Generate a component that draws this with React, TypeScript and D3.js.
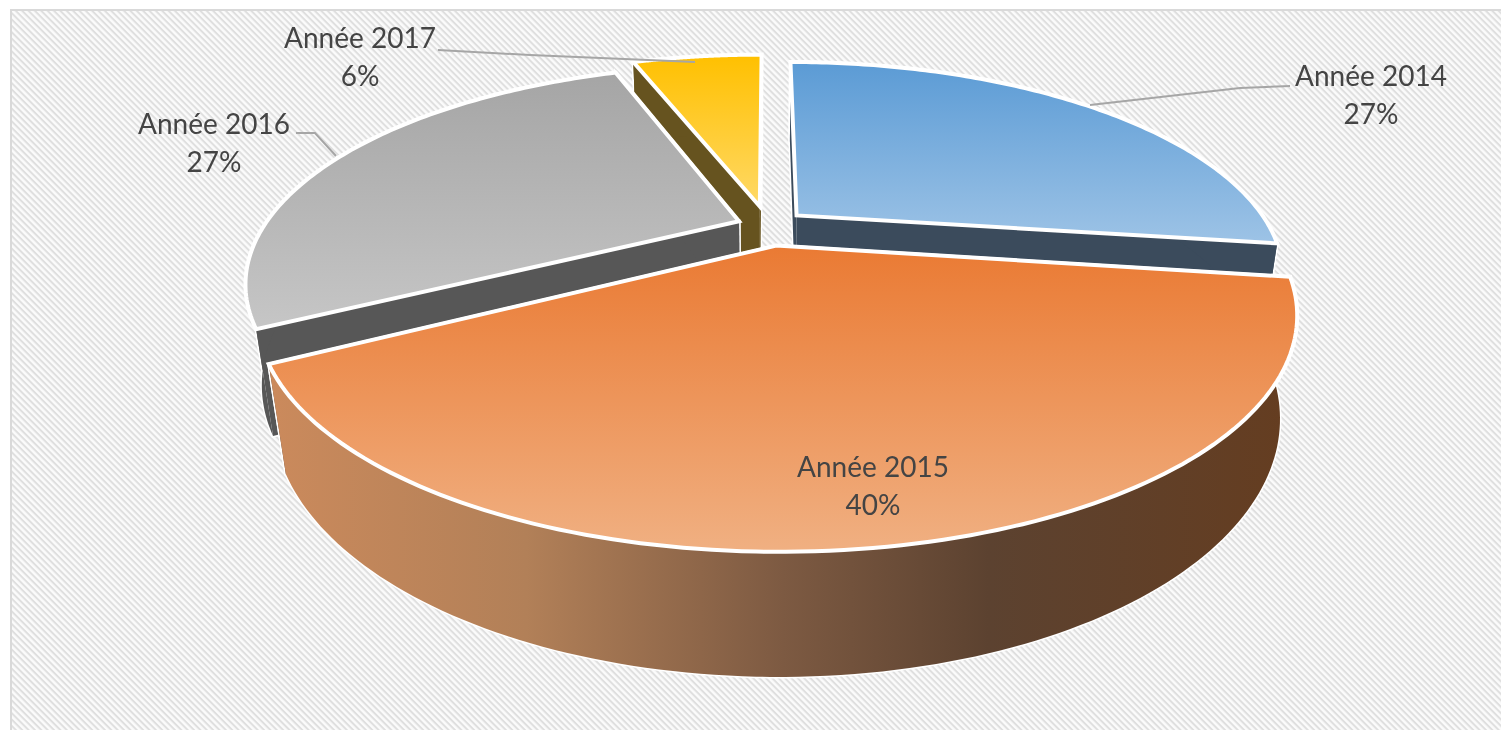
import React from "react";
import * as d3 from "d3";

const years = ["Année 2014", "Année 2015", "Année 2016", "Année 2017"];
const shares = [27.2, 40, 27.2, 5.6];
const explode = [0.08, 0.095, 0.065, 0.1];
const radii = [0.985, 1.01, 0.99, 1];
const topFrom = ["#5b9bd5", "#ea7a33", "#a5a5a5", "#ffc000"];
const topTo = ["#9dc3e6", "#f0b082", "#c6c6c6", "#ffd966"];
const wallFill = ["#3b4b5c", "url(#wallOrange)", "#575757", "#66531f"];
const wallStops = [
  [0, "#cb8a5c"],
  [0.25, "#b28058"],
  [0.5, "#7d5a42"],
  [0.7, "#5c4230"],
  [1, "#653d20"],
] as const;
const labelAnchors = [
  [1371, 76],
  [873, 467],
  [214, 124],
  [360, 38],
];
const leaders: ([number, number][] | null)[] = [
  [[1290, 86], [1240, 88], [1090, 105]],
  null,
  [[296, 133], [315, 133], [336, 156]],
  [[438, 50], [530, 55], [695, 62]],
];

const W = 1501;
const H = 730;
const cx = 768;
const cy = 226;
const A = 480;
const B = 204;
const K = 0.28;
const M = 0.03;
const DEPTH = 100;

const project = (X: number, Y: number, z: number): [number, number] => {
  const d = 1 + K * Y + M * z;
  return [cx + (A * X) / d, cy - (B * Y - DEPTH * z) / d];
};

const line = d3.line();
const pie = d3.pie<number>().sort(null).startAngle(0).endAngle(2 * Math.PI);
const arcs = pie(shares);

const rim = (a0: number, a1: number, ox: number, oy: number, r: number, z: number) =>
  d3.range(0, 121).map((i) => {
    const t = a0 + ((a1 - a0) * i) / 120;
    return project(ox + r * Math.sin(t), oy + r * Math.cos(t), z);
  });

const slices = arcs.map((a, i) => {
  const mid = (a.startAngle + a.endAngle) / 2;
  const ox = Math.sin(mid) * explode[i];
  const oy = Math.cos(mid) * explode[i];
  const top = rim(a.startAngle, a.endAngle, ox, oy, radii[i], 0);
  const bottom = rim(a.startAngle, a.endAngle, ox, oy, radii[i], 1);
  const c0 = project(ox, oy, 0);
  const c1 = project(ox, oy, 1);
  return {
    i,
    top: line([c0, ...top])! + "Z",
    outer: line([...top, ...[...bottom].reverse()])! + "Z",
    sideA: line([c0, top[0], bottom[0], c1])! + "Z",
    sideB: line([c0, top[120], bottom[120], c1])! + "Z",
  };
});

const drawOrder = [3, 2, 0, 1];

export default function App() {
  return (
    <svg
      width={W}
      height={H}
      style={{ position: "absolute", left: 0, top: 0, display: "block" }}
      fontFamily="Lato, 'Open Sans', sans-serif"
    >
      <defs>
        <pattern id="stripes" width={4.5} height={4.5} patternUnits="userSpaceOnUse" patternTransform="rotate(45)">
          <rect width={4.5} height={4.5} fill="#fbfbfb" />
          <rect width={4.5} height={2} y={0} fill="#dfdfdf" />
        </pattern>
        {slices.map((s) => (
          <linearGradient key={s.i} id={`top${s.i}`} x1="0" y1="0" x2="0" y2="1">
            <stop offset="0" stopColor={topFrom[s.i]} />
            <stop offset="1" stopColor={topTo[s.i]} />
          </linearGradient>
        ))}
        <linearGradient id="wallOrange" x1="0" y1="0" x2="1" y2="0">
          {wallStops.map(([o, c]) => (
            <stop key={o} offset={o} stopColor={c} />
          ))}
        </linearGradient>
      </defs>
      <rect x={11} y={10} width={W} height={H} fill="url(#stripes)" stroke="#d9d9d9" strokeWidth={2} />
      {drawOrder.map((i) => {
        const s = slices[i];
        const side = i === 1 ? "#5c4230" : wallFill[i];
        return (
          <g key={i} strokeLinejoin="miter">
            <g stroke="#fff" strokeWidth={3} fill="#fff">
              <path d={s.sideA} />
              <path d={s.sideB} />
              <path d={s.outer} />
            </g>
            <path d={s.sideA} fill={side} />
            <path d={s.sideB} fill={side} />
            <path d={s.outer} fill={wallFill[i]} />
            <path d={s.top} fill={`url(#top${i})`} stroke="#fff" strokeWidth={4} />
          </g>
        );
      })}
      {leaders.map((p, i) =>
        p ? <path key={i} d={line(p)!} fill="none" stroke="#a6a6a6" strokeWidth={2} /> : null
      )}
      {years.map((y, i) => (
        <text key={y} textAnchor="middle" fontSize={28} fill="#444" style={{ filter: "blur(0.4px)" }}>
          <tspan x={labelAnchors[i][0]} y={labelAnchors[i][1] + 10}>{y}</tspan>
          <tspan x={labelAnchors[i][0]} y={labelAnchors[i][1] + 48}>{Math.round(shares[i])}%</tspan>
        </text>
      ))}
    </svg>
  );
}
